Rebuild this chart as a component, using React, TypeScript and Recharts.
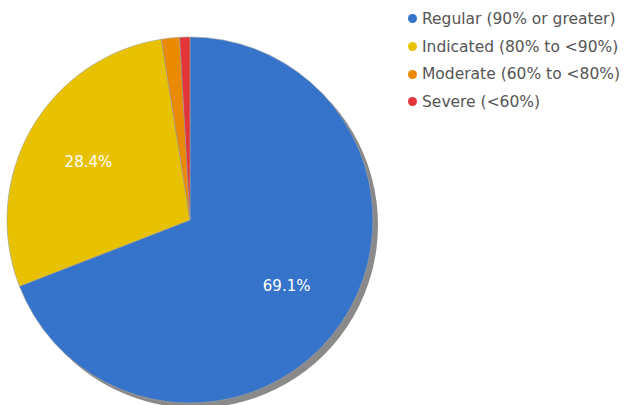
import React from 'react';
import { PieChart, Pie, Cell, Legend } from 'recharts';

const categories = ['Regular (90% or greater)', 'Indicated (80% to <90%)', 'Moderate (60% to <80%)', 'Severe (<60%)'];
const shares = [69.1, 28.4, 1.6, 0.9];
const COLORS = ['#3674cb', '#e8c100', '#ea8a00', '#e2353a'];

const data = categories.map((name, i) => ({ name, value: shares[i] }));
const shadowData = [{ name: 'shadow', value: shares.reduce((a, b) => a + b, 0) }];

const FONT = '"DejaVu Sans", Verdana, sans-serif';
const RAD = Math.PI / 180;

const renderLabel = (props: any) => {
    const { cx, cy, midAngle, outerRadius, value } = props;
    if (value < 5) return null;
    const r = outerRadius * 0.64;
    const x = cx + r * Math.cos(-midAngle * RAD);
    const y = cy + r * Math.sin(-midAngle * RAD);
    return (
        <text x={x} y={y} fill="#ffffff" fontSize={15} fontFamily={FONT} textAnchor="middle" dominantBaseline="central">
            {value.toFixed(1)}%
        </text>
    );
};

const renderLegend = () => (
    <div style={{ fontFamily: FONT, fontSize: 15.5, color: '#555' }}>
        {categories.map((c, i) => (
            <div key={c} style={{ display: 'flex', alignItems: 'center', height: 27.7 }}>
                <span style={{ width: 9, height: 9, borderRadius: '50%', background: COLORS[i], marginRight: 5, display: 'inline-block' }} />
                <span>{c}</span>
            </div>
        ))}
    </div>
);

export default function App() {
    return (
        <div style={{ position: 'absolute', left: 0, top: 0, width: 635, height: 405, background: '#fff' }}>
            <PieChart width={635} height={405} margin={{ top: 0, right: 0, bottom: 0, left: 0 }}>
                <Pie
                    data={shadowData}
                    dataKey="value"
                    cx={195}
                    cy={225}
                    outerRadius={183}
                    startAngle={90}
                    endAngle={-270}
                    fill="#8a8a8a"
                    stroke="none"
                    isAnimationActive={false}
                    legendType="none"
                />
                <Pie
                    data={data}
                    dataKey="value"
                    nameKey="name"
                    cx={190}
                    cy={220}
                    outerRadius={183}
                    startAngle={90}
                    endAngle={-270}
                    stroke="#a0a0a0"
                    strokeWidth={0.6}
                    label={renderLabel}
                    labelLine={false}
                    isAnimationActive={false}
                >
                    {data.map((_, i) => (
                        <Cell key={`cell-${i}`} fill={COLORS[i]} />
                    ))}
                </Pie>
                <Legend
                    layout="vertical"
                    align="right"
                    verticalAlign="top"
                    content={renderLegend}
                    wrapperStyle={{ position: 'absolute', left: 408, top: 5, width: 227 }}
                />
            </PieChart>
        </div>
    );
}
